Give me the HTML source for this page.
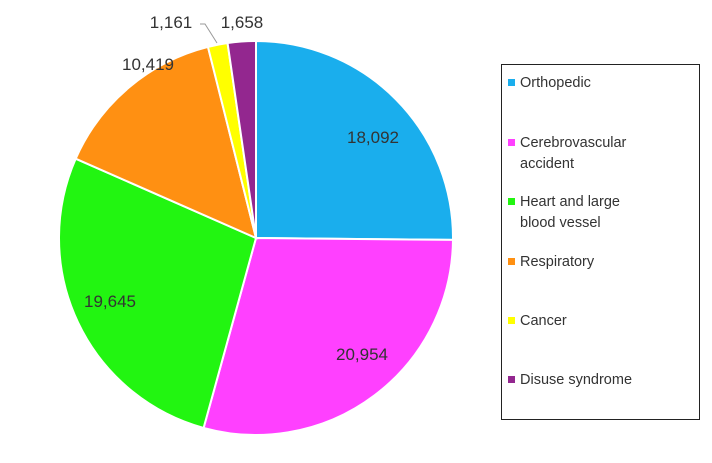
<!DOCTYPE html>
<html><head><meta charset="utf-8"><style>
body{margin:0;background:#fff;}
svg{display:block;font-family:"Liberation Sans",Calibri,sans-serif;}
</style></head><body>
<svg id="s" width="712" height="463" xmlns="http://www.w3.org/2000/svg">
<g id="pie"></g>
<g font-size="17" fill="#333" text-anchor="middle">
<text x="373" y="143">18,092</text>
<text x="362" y="360">20,954</text>
<text x="110" y="307">19,645</text>
<text x="148" y="70">10,419</text>
<text x="171" y="28">1,161</text>
<text x="242" y="28">1,658</text>
</g>
<polyline points="200,24 205,24 217,43" fill="none" stroke="#999" stroke-width="1"/>
<rect x="501.5" y="64.5" width="198" height="355" fill="#fff" stroke="#222" stroke-width="1"/>
<g font-size="14.5" fill="#333">
<rect x="508" y="79" width="7" height="7" fill="#1aaeed"/><text x="520" y="87">Orthopedic</text>
<rect x="508" y="139" width="7" height="7" fill="#ff40ff"/><text x="520" y="147">Cerebrovascular</text><text x="520" y="168">accident</text>
<rect x="508" y="198" width="7" height="7" fill="#22f511"/><text x="520" y="206">Heart and large</text><text x="520" y="227">blood vessel</text>
<rect x="508" y="258" width="7" height="7" fill="#ff9012"/><text x="520" y="266">Respiratory</text>
<rect x="508" y="317" width="7" height="7" fill="#ffff00"/><text x="520" y="325">Cancer</text>
<rect x="508" y="376" width="7" height="7" fill="#93278f"/><text x="520" y="384">Disuse syndrome</text>
</g>
</svg>
<script>
var d=[[18092,"#1aaeed"],[20954,"#ff40ff"],[19645,"#22f511"],[10419,"#ff9012"],[1161,"#ffff00"],[1658,"#93278f"]];
var t=0;d.forEach(function(x){t+=x[0];});
var cx=256,cy=238,r=197,a=0,h="";
d.forEach(function(x){var b=a+x[0]/t*2*Math.PI;
var x1=cx+r*Math.sin(a),y1=cy-r*Math.cos(a),x2=cx+r*Math.sin(b),y2=cy-r*Math.cos(b);
h+='<path d="M'+cx+','+cy+' L'+x1+','+y1+' A'+r+','+r+' 0 '+((b-a)>Math.PI?1:0)+' 1 '+x2+','+y2+' Z" fill="'+x[1]+'" stroke="#fff" stroke-width="2"/>';a=b;});
document.getElementById("pie").innerHTML=h;
</script>
</body></html>
